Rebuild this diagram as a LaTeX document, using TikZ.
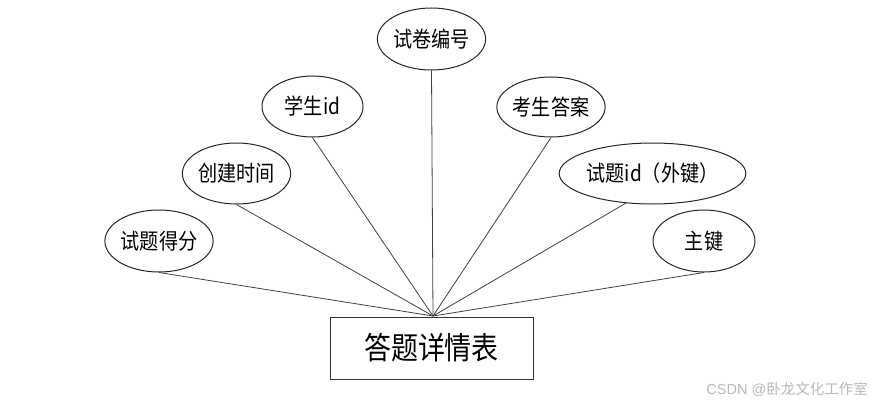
\documentclass[tikz,border=0pt]{standalone}
\usepackage{fontspec}
\setmainfont{Noto Sans CJK SC}
\newfontfamily\narrowcjk[FakeStretch=0.87]{Noto Sans CJK SC}
\usetikzlibrary{shapes.geometric}
\begin{document}
\begin{tikzpicture}[x=1pt,y=-1pt,
  attr/.style={draw=black!85,line width=1pt,ellipse,inner sep=0pt,font=\narrowcjk\fontsize{22}{22}\selectfont},
  entity/.style={draw=black!80,line width=1pt,rectangle,inner sep=0pt,font=\narrowcjk\fontsize{31}{31}\selectfont},
  link/.style={draw=black!75,line width=0.8pt},
  wm/.style={text=black!28,font=\fontspec{Liberation Sans}\fontsize{14.5}{14.5}\selectfont,inner sep=0pt}]
\useasboundingbox (0,0) rectangle (880,409);
\node[entity,minimum width=203pt,minimum height=62pt] (c) at (431.5,348) {答题详情表};
\node[attr,minimum width=103pt,minimum height=62pt] (a1) at (431.5,39) {试卷编号};
\node[attr,minimum width=101pt,minimum height=61pt] (a2) at (312.5,106.5) {学生id};
\node[attr,minimum width=101pt,minimum height=61pt] (a3) at (236.5,173.5) {创建时间};
\node[attr,minimum width=102pt,minimum height=62pt] (a4) at (159,241) {试题得分};
\node[attr,minimum width=102pt,minimum height=60pt] (a5) at (551,107) {考生答案};
\node[attr,minimum width=151pt,minimum height=61pt] (a6) at (652.5,173.5) {试题id（外键）};
\node[attr,minimum width=102pt,minimum height=62pt] (a7) at (704,241) {主键};
\coordinate (hub) at (433,316);
\draw[link] (a1.south) -- (hub);
\draw[link] (a2.south) -- (hub);
\draw[link] (a3.south) -- (hub);
\draw[link] (a4.south) -- (hub);
\draw[link] (a5.south) -- (hub);
\draw[link] (a6.-132) -- (hub);
\draw[link] (a7.south) -- (hub);
\node[wm,anchor=east] (w) at (868,389) {CSDN @{\fontspec{Noto Sans CJK SC}卧龙文化工作室}};
\end{tikzpicture}
\end{document}
